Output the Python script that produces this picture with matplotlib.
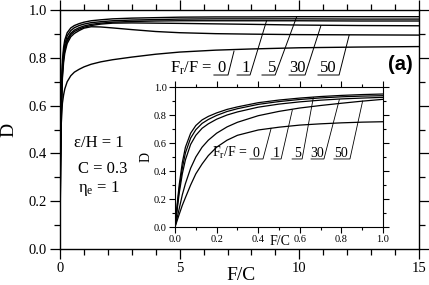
import numpy as np
import matplotlib.pyplot as plt
from matplotlib.ticker import MultipleLocator, FormatStrFormatter

plt.rcParams['font.family'] = ['Liberation Serif', 'DejaVu Serif']
plt.rcParams['mathtext.fontset'] = 'custom'
plt.rcParams['mathtext.rm'] = 'Liberation Serif'
plt.rcParams['mathtext.it'] = 'Liberation Serif'

# main panel: D vs F/C, six curves (top to bottom at F/C = 15)
main_x = [0, 0.02, 0.05, 0.1, 0.15, 0.2, 0.3, 0.45, 0.6, 0.8, 1.0, 1.3, 1.7,
          2.2, 3, 4, 5, 6.5, 8, 10, 12.5, 15]
main_curves = [
    [0, 0.45, 0.66, 0.79, 0.845, 0.875, 0.905, 0.925, 0.935, 0.943, 0.949, 0.955,
     0.959, 0.963, 0.966, 0.968, 0.970, 0.971, 0.971, 0.972, 0.972, 0.972],
    [0, 0.41, 0.62, 0.765, 0.825, 0.858, 0.892, 0.914, 0.926, 0.935, 0.941, 0.947,
     0.951, 0.955, 0.958, 0.960, 0.962, 0.963, 0.963, 0.963, 0.962, 0.962],
    [0, 0.38, 0.59, 0.745, 0.808, 0.843, 0.878, 0.903, 0.916, 0.926, 0.933, 0.940,
     0.945, 0.949, 0.952, 0.954, 0.955, 0.955, 0.955, 0.955, 0.954, 0.954],
    [0, 0.36, 0.57, 0.73, 0.795, 0.832, 0.870, 0.897, 0.910, 0.920, 0.928, 0.935,
     0.941, 0.945, 0.946, 0.945, 0.944, 0.942, 0.940, 0.937, 0.935, 0.934],
    [0, 0.34, 0.55, 0.715, 0.782, 0.820, 0.860, 0.888, 0.902, 0.914, 0.924, 0.930,
     0.929, 0.925, 0.918, 0.910, 0.905, 0.901, 0.899, 0.897, 0.896, 0.895],
    [0, 0.33, 0.52, 0.61, 0.645, 0.670, 0.700, 0.725, 0.740, 0.752, 0.762, 0.773,
     0.783, 0.792, 0.803, 0.815, 0.824, 0.832, 0.837, 0.842, 0.845, 0.847],
]

# inset: zoom on 0 <= F/C <= 1
inset_x = [0, 0.01, 0.02, 0.035, 0.05, 0.075, 0.1, 0.13, 0.16, 0.2, 0.25, 0.3,
           0.4, 0.5, 0.6, 0.7, 0.8, 0.9, 1.0]
inset_curves = [
    [0, 0.16, 0.30, 0.46, 0.57, 0.67, 0.725, 0.765, 0.79, 0.815, 0.84, 0.858,
     0.888, 0.907, 0.921, 0.932, 0.940, 0.946, 0.950],
    [0, 0.14, 0.27, 0.42, 0.53, 0.635, 0.695, 0.74, 0.768, 0.797, 0.825, 0.845,
     0.876, 0.896, 0.911, 0.922, 0.930, 0.935, 0.938],
    [0, 0.12, 0.24, 0.38, 0.48, 0.59, 0.655, 0.705, 0.737, 0.77, 0.80, 0.822,
     0.856, 0.878, 0.894, 0.906, 0.915, 0.921, 0.926],
    [0, 0.065, 0.13, 0.23, 0.31, 0.42, 0.50, 0.57, 0.62, 0.67, 0.715, 0.748,
     0.795, 0.826, 0.850, 0.868, 0.884, 0.899, 0.912],
    [0, 0.045, 0.09, 0.155, 0.21, 0.30, 0.38, 0.45, 0.51, 0.57, 0.62, 0.655,
     0.693, 0.713, 0.728, 0.737, 0.744, 0.749, 0.752],
]

# Fr/F labels: text, text x, underline start/end, leader tip (x, D)
ratio_labels = ['0', '1', '5', '30', '50']
main_text_x = [6.73, 7.75, 8.86, 9.93, 11.2]
main_ul = [(6.43, 7.02), (7.40, 7.94), (8.44, 8.99), (9.57, 10.24), (10.78, 11.66)]
main_tip = [(7.27, 0.828), (8.63, 0.955), (9.89, 0.972), (10.9, 0.934), (12.08, 0.894)]
main_ul_y = 0.728
main_txt_y = 0.74

inset_text_x = [0.387, 0.485, 0.591, 0.683, 0.80]
inset_ul = [(0.36, 0.423), (0.462, 0.51), (0.563, 0.611), (0.654, 0.716), (0.764, 0.841)]
inset_tip = [(0.462, 0.705), (0.564, 0.836), (0.665, 0.925), (0.79, 0.91), (0.902, 0.90)]
inset_ul_y = 0.486
inset_txt_y = 0.50

fig = plt.figure(figsize=(4.29, 2.85), dpi=100)
ax = fig.add_axes([0.1399, 0.1263, 0.8368, 0.8386])

for d in main_curves:
    ax.plot(main_x, d, color='black', lw=1.0)

ax.set_xlim(0, 15)
ax.set_ylim(0, 1.0)
ax.xaxis.set_major_locator(MultipleLocator(5))
ax.xaxis.set_minor_locator(MultipleLocator(1))
ax.yaxis.set_major_locator(MultipleLocator(0.2))
ax.yaxis.set_minor_locator(MultipleLocator(0.1))
ax.yaxis.set_major_formatter(FormatStrFormatter('%.1f'))
ax.tick_params(which='both', direction='out', top=True, right=True, width=0.9)
ax.tick_params(which='major', length=7, pad=2.5, labelsize=10.5)
ax.tick_params(which='minor', length=4)
for s in ax.spines.values():
    s.set_linewidth(1.0)
ax.set_xlabel('F/C', fontsize=14)
ax.xaxis.set_label_coords(0.505, -0.075)
ax.set_ylabel('D', fontsize=14)
ax.yaxis.set_label_coords(-0.12, 0.5)

ax.text(6.39, main_txt_y, r'F$_\mathrm{r}$/F = ', fontsize=12, ha='right', va='baseline')
for lab, tx, (u0, u1), (px, py) in zip(ratio_labels, main_text_x, main_ul, main_tip):
    ax.text(tx, main_txt_y, lab, fontsize=12, ha='center', va='baseline')
    ax.plot([u0, u1, px], [main_ul_y, main_ul_y, py], color='black', lw=0.7)

ax.text(0.982, 0.77, '(a)', transform=ax.transAxes, fontsize=14.5, fontweight='bold',
        family='Liberation Sans', ha='right', va='center')
ax.text(0.6, 0.427, 'ε/H = 1', fontsize=12, va='baseline')
ax.text(0.75, 0.318, 'C = 0.3', fontsize=12, va='baseline')
ax.text(0.75, 0.24, r'$\mathrm{η_e}$ = 1', fontsize=12, va='baseline')

# inset
ins = fig.add_axes([0.408, 0.2035, 0.4848, 0.4912])
for d in inset_curves:
    ins.plot(inset_x, d, color='black', lw=0.9)
ins.set_xlim(0, 1.0)
ins.set_ylim(0, 1.0)
for a in (ins.xaxis, ins.yaxis):
    a.set_major_locator(MultipleLocator(0.2))
    a.set_minor_locator(MultipleLocator(0.1))
    a.set_major_formatter(FormatStrFormatter('%.1f'))
ins.tick_params(which='both', direction='out', top=True, right=True, width=0.8)
ins.tick_params(which='major', length=4.5, pad=1.5, labelsize=7.5)
ins.tick_params(which='minor', length=2.5)
for s in ins.spines.values():
    s.set_linewidth(0.8)
ins.set_xlabel('F/C', fontsize=10)
ins.xaxis.set_label_coords(0.505, -0.06)
ins.set_ylabel('D', fontsize=10)
ins.yaxis.set_label_coords(-0.11, 0.5)

ins.text(0.351, inset_txt_y, r'F$_\mathrm{r}$/F = ', fontsize=10, ha='right', va='baseline')
for lab, tx, (u0, u1), (px, py) in zip(ratio_labels, inset_text_x, inset_ul, inset_tip):
    ins.text(tx, inset_txt_y, lab, fontsize=10, ha='center', va='baseline')
    ins.plot([u0, u1, px], [inset_ul_y, inset_ul_y, py], color='black', lw=0.6)

fig.savefig('out.png', dpi=100)
